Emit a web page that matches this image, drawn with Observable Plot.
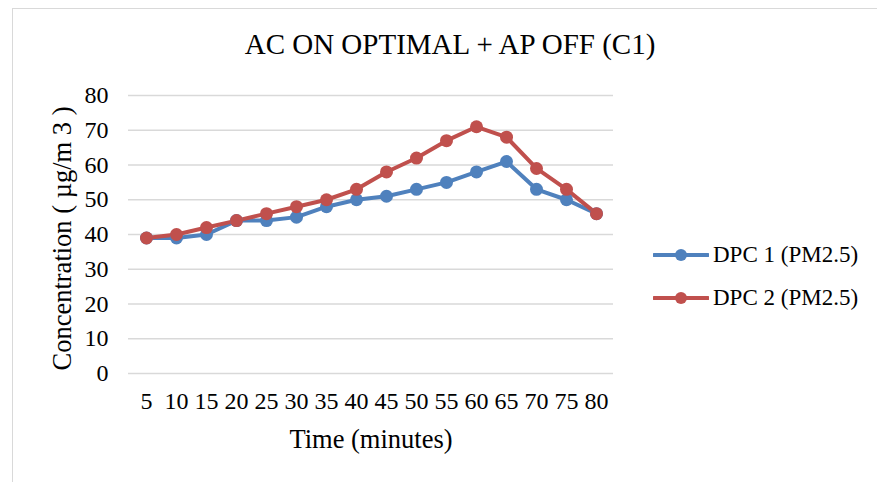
<!DOCTYPE html>
<html>
<head>
<meta charset="utf-8">
<script src="https://cdn.jsdelivr.net/npm/d3@7"></script>
<script src="https://cdn.jsdelivr.net/npm/@observablehq/plot@0.6"></script>
<style>
  html, body { margin: 0; padding: 0; background: #fff; }
  #wrap { position: relative; width: 877px; height: 482px; overflow: hidden; font-family: "Liberation Serif", "Tinos", "Times New Roman", "DejaVu Serif", serif; }
  #border { position: absolute; left: 12px; top: 8px; width: 880px; height: 490px; border: 1.5px solid #d9d9d9; box-sizing: border-box; }
  #title { position: absolute; left: 0; top: 28px; width: 900px; text-align: center; font-size: 29px; color: #000; white-space: nowrap; }
  #chart { position: absolute; left: 0; top: 0; }
  .leg { position: absolute; left: 653px; font-size: 23px; line-height: 26px; color: #000; display: flex; align-items: center; white-space: nowrap; }
  .leg svg { margin-right: 4px; }
</style>
</head>
<body>
<div id="wrap">
  <div id="border"></div>
  <div id="chart"></div>
  <div id="title">AC ON OPTIMAL + AP OFF (C1)</div>
  <div id="legend"></div>
</div>
<script>
const times = [5, 10, 15, 20, 25, 30, 35, 40, 45, 50, 55, 60, 65, 70, 75, 80];
const dpc1 = [39, 39, 40, 44, 44, 45, 48, 50, 51, 53, 55, 58, 61, 53, 50, 46];
const dpc2 = [39, 40, 42, 44, 46, 48, 50, 53, 58, 62, 67, 71, 68, 59, 53, 46];
const seriesNames = ["DPC 1 (PM2.5)", "DPC 2 (PM2.5)"];
const seriesColors = ["#4F81BD", "#C0504D"];
const yTicks = [0, 10, 20, 30, 40, 50, 60, 70, 80];

const data = [];
times.forEach((t, i) => {
  data.push({time: String(t), value: dpc1[i], series: seriesNames[0]});
});
times.forEach((t, i) => {
  data.push({time: String(t), value: dpc2[i], series: seriesNames[1]});
});

const FONT = "'Liberation Serif', 'Tinos', 'Times New Roman', 'DejaVu Serif', serif";

const plot = Plot.plot({
  width: 877,
  height: 482,
  marginLeft: 128,
  marginRight: 264,
  marginTop: 95,
  marginBottom: 109,
  style: {fontFamily: FONT, fontSize: "24px", color: "#000", background: "transparent"},
  x: {type: "point", domain: times.map(String), padding: 0.5, label: null},
  y: {domain: [0, 80], ticks: yTicks, label: null},
  color: {domain: seriesNames, range: seriesColors},
  marks: [
    Plot.gridY(yTicks, {stroke: "#d9d9d9", strokeOpacity: 1, strokeWidth: 1.5}),
    Plot.axisY(yTicks, {tickSize: 0, tickPadding: 20, fontSize: 24, fontFamily: FONT, label: null}),
    Plot.axisX({tickSize: 0, tickPadding: 18, fontSize: 24, fontFamily: FONT, label: null}),
    Plot.text(["Time (minutes)"], {frameAnchor: "bottom", dy: 74, fontSize: 26.5, fontFamily: FONT}),
    Plot.text(["Concentration ( µg/m 3 )"], {frameAnchor: "left", textAnchor: "middle", dx: -66, dy: 4, rotate: -90, fontSize: 26.5, fontFamily: FONT}),
    Plot.line(data, {x: "time", y: "value", stroke: "series", strokeWidth: 4, z: "series"}),
    Plot.dot(data, {x: "time", y: "value", fill: "series", r: 6.5})
  ]
});
document.getElementById("chart").appendChild(plot);

const legend = document.getElementById("legend");
seriesNames.forEach((name, i) => {
  const d = document.createElement("div");
  d.className = "leg";
  d.style.top = (242 + i * 43) + "px";
  d.innerHTML = `<svg width="56" height="16"><line x1="1" y1="8" x2="55" y2="8" stroke="${seriesColors[i]}" stroke-width="4" stroke-linecap="round"/><circle cx="28" cy="8" r="6" fill="${seriesColors[i]}"/></svg><span>${name}</span>`;
  legend.appendChild(d);
});
</script>
</body>
</html>
